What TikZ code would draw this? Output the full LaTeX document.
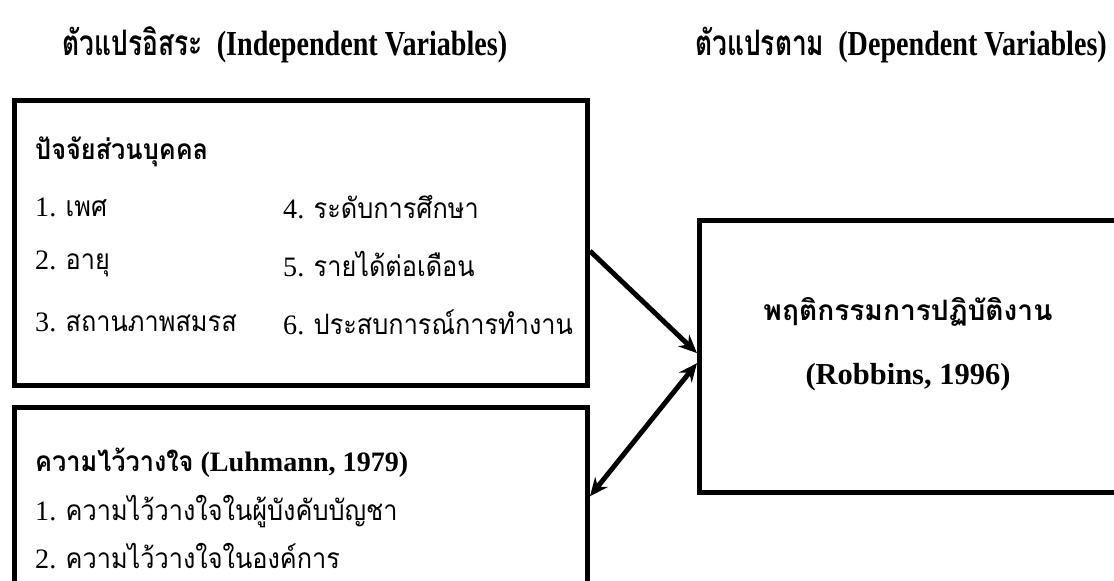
\documentclass[tikz,border=0pt]{standalone}
\usepackage{fontspec}
\setmainfont{Liberation Serif}
\newfontfamily\thaifont[Script=Thai,FakeStretch=0.9]{Loma}
\newfontfamily\thaiwide[Script=Thai]{Loma}
\newfontfamily\headfont[FakeStretch=0.8]{Liberation Serif}
\newfontfamily\headthai[Script=Thai,FakeStretch=0.75]{Loma}
\usetikzlibrary{arrows.meta}
\newcommand{\thai}[1]{{\thaifont #1}}
\tikzset{
  varbox/.style={draw,line width=4.2pt,inner sep=0pt,anchor=north west},
  head/.style={inner sep=0pt,font=\fontsize{30}{34}\selectfont\bfseries\headfont},
  item/.style={anchor=west,inner sep=0pt,font=\fontsize{24}{28}\selectfont},
  boxtitle/.style={item,font=\fontsize{24}{28}\selectfont\bfseries},
  result/.style={inner sep=0pt,font=\fontsize{26}{30}\selectfont\bfseries},
  link/.style={line width=4.2pt,-{Stealth[length=0.55cm,width=0.48cm]}}
}

\begin{document}
\begin{tikzpicture}[x=0.03cm,y=-0.03cm]
\useasboundingbox (0,0) rectangle (1114,580);
\clip (0,0) rectangle (1114,580);
% headings
\node[head] (indhead) at (285,45) {{\headthai ตัวแปรอิสระ}\ \ (Independent Variables)};
\node[head] (dephead) at (901,45) {{\headthai ตัวแปรตาม}\ \ (Dependent Variables)};
% independent variables
\node[varbox,minimum width=17.19cm,minimum height=8.55cm] (pers) at (12,98) {};
\node[boxtitle] (perstitle) at (35,152) {\thai{ปัจจัยส่วนบุคคล}};
\node[item] (p1) at (35,207) {1. \thai{เพศ}};
\node[item] (p2) at (35,264) {2. \thai{อายุ}};
\node[item] (p3) at (35,322) {3. \thai{สถานภาพสมรส}};
\node[item] (p4) at (283,207) {4. \thai{ระดับการศึกษา}};
\node[item] (p5) at (283,264) {5. \thai{รายได้ต่อเดือน}};
\node[item] (p6) at (283,322) {6. \thai{ประสบการณ์การทำงาน}};
\node[varbox,minimum width=17.19cm,minimum height=5.85cm] (trust) at (12,405) {};
\node[boxtitle] (trusttitle) at (35,463) {\thai{ความไว้วางใจ} (Luhmann, 1979)};
\node[item] (t1) at (35,512) {1. \thai{ความไว้วางใจในผู้บังคับบัญชา}};
\node[item] (t2) at (35,556) {2. \thai{ความไว้วางใจในองค์การ}};
% dependent variable
\node[varbox,minimum width=12.69cm,minimum height=8.16cm] (work) at (697,218) {};
\node[result,font=\fontsize{24}{28}\selectfont\bfseries\thaiwide] (worktitle) at (908,312) {พฤติกรรมการปฏิบัติงาน};
\node[result] (workref) at (908,377) {(Robbins, 1996)};
% links
\draw[link] ([yshift=-0.24cm]pers.east) -- ([yshift=0.1cm]work.west);
\draw[link,{Stealth[length=0.55cm,width=0.48cm]}-{Stealth[length=0.55cm,width=0.48cm]}] ([yshift=-0.2cm]work.west) -- ([yshift=0.26cm]trust.east);
\end{tikzpicture}
\end{document}
